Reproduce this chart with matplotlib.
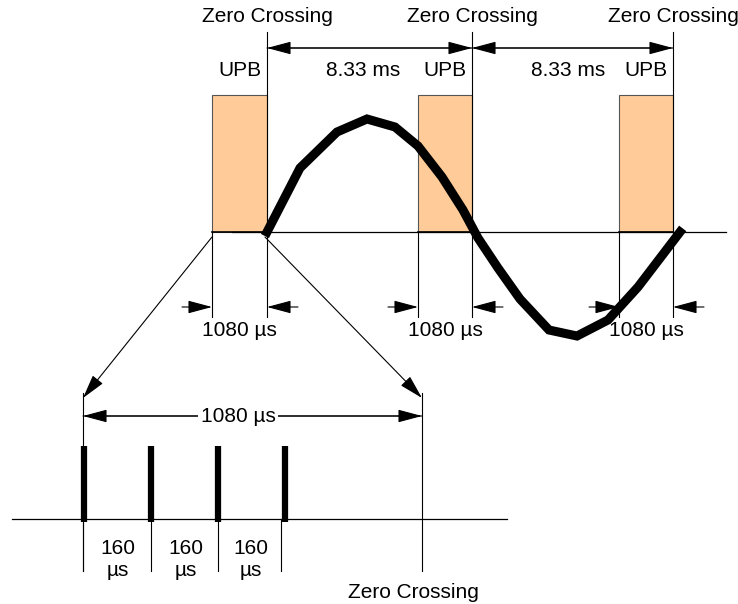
import matplotlib
matplotlib.use('Agg')
import matplotlib.pyplot as plt
from matplotlib.patches import Rectangle

plt.rcParams['font.family'] = ['Liberation Sans', 'DejaVu Sans']

# diagram units are pixels of the original drawing (y grows downward)
crossings = [267, 472, 673]          # zero crossing positions
upb_left = [212, 418, 619]           # start of each UPB window
upb_top = 95
axis_y = 232
period_labels = ['8.33 ms', '8.33 ms']
window_label = '1080 \u00b5s'

# half-cycle of the mains waveform
sine_x = [267, 300, 337, 367, 395, 418, 442, 463, 478, 498, 520, 549, 577, 608, 638, 680]
sine_y = [232, 168, 132, 119, 127, 146, 177, 210, 238, 268, 299, 330, 336, 320, 287, 232]

# zoomed view of one UPB window
zoom_left, zoom_right = 83, 422
zoom_axis_y = 519
pulse_x = [84, 151, 218, 285]
gap_x = [83, 151, 218, 281]
gap_labels = ['160\n\u00b5s', '160\n\u00b5s', '160\n\u00b5s']

fs = 15
fig = plt.figure(figsize=(7.38, 6.04), dpi=100)
ax = fig.add_axes((0, 0, 1, 1))
ax.set_xlim(0, 738)
ax.set_ylim(604, 0)
ax.axis('off')


def arrow(x0, y0, x1, y1):
    ax.annotate('', xy=(x1, y1), xytext=(x0, y0),
                arrowprops=dict(arrowstyle='-|>,head_length=1.5,head_width=0.4',
                                mutation_scale=10, lw=0.8, color='k',
                                shrinkA=0, shrinkB=0))


# upper waveform section
ax.plot([232, 726], [axis_y, axis_y], color='k', lw=0.9)
for left, zc in zip(upb_left, crossings):
    ax.add_patch(Rectangle((left, upb_top), zc - left, axis_y - upb_top,
                           facecolor='#ffcc99', edgecolor='#555555', lw=0.8))
    ax.plot([left, zc], [axis_y, axis_y], color='k', lw=1.2)
    ax.text((left + zc) / 2, 70, 'UPB', ha='center', va='center', fontsize=fs)
    ax.text(zc, 17, 'Zero Crossing', ha='center', va='center', fontsize=fs)
    ax.plot([zc, zc], [32, 317], color='k', lw=0.8)
    ax.plot([left, left], [axis_y, 317], color='k', lw=0.8)
    arrow(left - 30, 307, left, 307)
    arrow(zc + 31, 307, zc, 307)
    ax.text((left + zc) / 2, 330, window_label, ha='center', va='center', fontsize=fs)

for i, lab in enumerate(period_labels):
    arrow(crossings[i], 48, crossings[i + 1], 48)
    arrow(crossings[i + 1], 48, crossings[i], 48)
    ax.text(crossings[i] + 96, 70, lab, ha='center', va='center', fontsize=fs)

ax.plot(sine_x, sine_y, color='k', lw=6.5, solid_joinstyle='miter', zorder=5)

# projection lines to the zoomed window
arrow(upb_left[0], 237, zoom_left, 398)
arrow(crossings[0] - 2, 237, zoom_right, 398)

# lower zoomed section
ax.plot([12, 507], [zoom_axis_y, zoom_axis_y], color='k', lw=0.9)
ax.plot([zoom_left, zoom_left], [393, 571], color='k', lw=0.8)
ax.plot([zoom_right, zoom_right], [393, 571], color='k', lw=0.8)
arrow(zoom_left, 416, zoom_right, 416)
arrow(zoom_right, 416, zoom_left, 416)
ax.text(238, 416, window_label, ha='center', va='center', fontsize=fs,
        bbox=dict(facecolor='white', edgecolor='none', pad=2))

for x in pulse_x:
    ax.plot([x, x], [446, 522], color='k', lw=4.5, solid_capstyle='butt', zorder=5)
for x in gap_x:
    ax.plot([x, x], [zoom_axis_y, 571], color='k', lw=0.8)
for i, lab in enumerate(gap_labels):
    ax.text((gap_x[i] + gap_x[i + 1]) / 2 + 1, 559, lab, ha='center', va='center',
            fontsize=fs, linespacing=1.2)
ax.text(zoom_right - 9, 592, 'Zero Crossing', ha='center', va='center', fontsize=fs)

fig.savefig('out.png', dpi=100)
